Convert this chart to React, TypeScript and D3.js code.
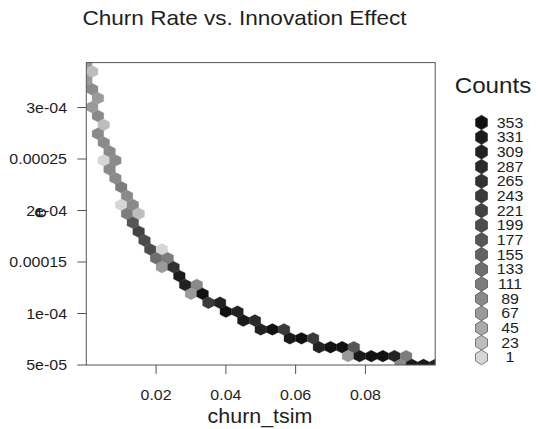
import React from "react";
import * as d3 from "d3";

// hexbin cell centres (data units) and counts
const hexX = [
  0.0, 0.00167, 0.0, 0.00167, 0.00333, 0.00167, 0.00333, 0.005, 0.00333, 0.005,
  0.00667, 0.005, 0.00833, 0.00667, 0.00833, 0.01, 0.01167, 0.01, 0.01333, 0.01167,
  0.015, 0.01333, 0.015, 0.01667, 0.01833, 0.02167, 0.02, 0.02333, 0.02167, 0.025,
  0.02667, 0.02833, 0.03167, 0.03, 0.03333, 0.035, 0.03833, 0.04, 0.04333, 0.045,
  0.04833, 0.05, 0.05333, 0.05667, 0.05833, 0.06167, 0.065, 0.06667, 0.07, 0.07333,
  0.07667, 0.075, 0.07833, 0.08167, 0.085, 0.08833, 0.09167, 0.09, 0.09333, 0.09667,
  0.1,
];
const hexY = [
  3.4362e-4, 3.3499e-4, 3.2635e-4, 3.1772e-4, 3.0908e-4, 3.0044e-4, 2.9181e-4, 2.8317e-4, 2.7454e-4, 2.659e-4,
  2.5726e-4, 2.4863e-4, 2.4863e-4, 2.3999e-4, 2.3136e-4, 2.2272e-4, 2.1408e-4, 2.0545e-4, 2.0545e-4, 1.9681e-4,
  1.9681e-4, 1.8818e-4, 1.7954e-4, 1.709e-4, 1.6227e-4, 1.6227e-4, 1.5363e-4, 1.5363e-4, 1.45e-4, 1.45e-4,
  1.3636e-4, 1.2772e-4, 1.2772e-4, 1.1909e-4, 1.1909e-4, 1.1045e-4, 1.1045e-4, 1.0182e-4, 1.0182e-4, 9.318e-5,
  9.318e-5, 8.454e-5, 8.454e-5, 8.454e-5, 7.591e-5, 7.591e-5, 7.591e-5, 6.727e-5, 6.727e-5, 6.727e-5,
  6.727e-5, 5.864e-5, 5.864e-5, 5.864e-5, 5.864e-5, 5.864e-5, 5.864e-5, 5.0e-5, 5.0e-5, 5.0e-5,
  5.0e-5,
];
const hexCount = [
  70, 24, 60, 88, 72, 66, 84, 20, 86, 90,
  92, 6, 82, 95, 89, 104, 93, 9, 80, 108,
  28, 178, 218, 196, 188, 4, 135, 118, 64, 262,
  325, 305, 87, 69, 348, 240, 312, 353, 300, 322,
  282, 308, 350, 245, 335, 351, 238, 303, 352, 346,
  170, 62, 330, 349, 344, 306, 114, 85, 328, 320,
  298,
];

const legendLabels = [1, 23, 45, 67, 89, 111, 133, 155, 177, 199, 221, 243, 265, 287, 309, 331, 353];
const legendColors = [
  "#d6d6d6", "#bdbdbd", "#aaaaaa", "#9a9a9a", "#8a8a8a", "#7c7c7c", "#6e6e6e", "#626262", "#565656",
  "#4c4c4c", "#424242", "#3a3a3a", "#323232", "#2a2a2a", "#222222", "#1a1a1a", "#111111",
];
const xTicks = [0.02, 0.04, 0.06, 0.08];
const yTicks = [5e-5, 1e-4, 1.5e-4, 2e-4, 2.5e-4, 3e-4];
const yTickLabels = ["5e-05", "1e-04", "0.00015", "2e-04", "0.00025", "3e-04"];
const xTickLabels = ["0.02", "0.04", "0.06", "0.08"];

const X_STEP = 0.1 / 30;
const Y_STEP = 8.636e-6;

const FONT = "'Liberation Sans', Arial, Helvetica, sans-serif";
const SX = 1.1;

function T(props: { x: number; y: number; size: number; anchor?: string; children: React.ReactNode; rotate?: number }) {
  const { x, y, size, anchor = "middle", children, rotate = 0 } = props;
  return (
    <g transform={`translate(${x},${y}) rotate(${rotate}) scale(${rotate ? 1 : SX},${rotate ? SX : 1})`}>
      <text x={0} y={0} textAnchor={anchor} fontSize={size} fill="#1e1e1e">
        {children}
      </text>
    </g>
  );
}

export default function App() {
  const W = 540, H = 429;
  const left = 86.3, right = 435.2, top = 62.6, bottom = 365;
  const x = d3.scaleLinear().domain([0, 0.1]).range([left, right]);
  const y = d3.scaleLinear().domain([5e-5, 3.4362e-4]).range([bottom, top]);
  const color = d3.scaleQuantize<string>().domain([-10, 364]).range(legendColors);

  const hw = (x(X_STEP) - x(0)) / 2;
  const rowH = y(5e-5) - y(5e-5 + Y_STEP);
  const dv = rowH / 3;
  const hexPath = (cx: number, cy: number, a: number, b: number) =>
    `M${cx + a},${cy + b}L${cx},${cy + 2 * b}L${cx - a},${cy + b}L${cx - a},${cy - b}L${cx},${cy - 2 * b}L${cx + a},${cy - b}Z`;

  const cells = hexX.map((vx, i) => ({ x: vx, y: hexY[i], c: hexCount[i] }));

  const legTop = 122.5, legStep = 14.68;
  const legendRows = legendLabels.map((l, i) => ({ l, col: legendColors[i] })).reverse();

  return (
    <svg width={W} height={H} style={{ position: "absolute", left: 0, top: 0, background: "#fff" }} fontFamily={FONT}>
      <defs>
        <clipPath id="plotclip">
          <rect x={left} y={top} width={right - left} height={bottom - top} />
        </clipPath>
      </defs>
      <T x={244.5} y={25} size={20.5}>
        Churn Rate vs. Innovation Effect
      </T>
      <g clipPath="url(#plotclip)">
        {cells.map((d, i) => (
          <path key={i} d={hexPath(x(d.x), y(d.y), hw, dv)} fill={color(d.c)} stroke={color(d.c)} strokeWidth={0.3} />
        ))}
      </g>
      <rect x={left} y={top} width={right - left} height={bottom - top} fill="none" stroke="#555" strokeWidth={1} />
      {xTicks.map((t, i) => (
        <g key={"xt" + i}>
          <line x1={x(t)} x2={x(t)} y1={bottom} y2={bottom + 9} stroke="#555" />
          <T x={x(t)} y={400} size={14.5}>
            {xTickLabels[i]}
          </T>
        </g>
      ))}
      {yTicks.map((t, i) => (
        <g key={"yt" + i}>
          <line x1={left - 9} x2={left} y1={y(t)} y2={y(t)} stroke="#555" />
          <T x={67} y={y(t) + 5} size={14.5} anchor="end">
            {yTickLabels[i]}
          </T>
        </g>
      ))}
      <T x={260} y={423} size={19.5}>
        churn_tsim
      </T>
      <T x={46} y={213} size={18} rotate={-90}>
        e
      </T>
      <T x={493} y={93} size={22}>
        Counts
      </T>
      {legendRows.map((d, i) => {
        const cy = legTop + i * legStep;
        return (
          <g key={"lg" + i}>
            <path d={hexPath(481.5, cy, 6, legStep / 4)} fill={d.col} stroke="#333" strokeWidth={0.6} />
            <T x={510} y={cy + 5} size={14.5}>
              {d.l}
            </T>
          </g>
        );
      })}
    </svg>
  );
}
